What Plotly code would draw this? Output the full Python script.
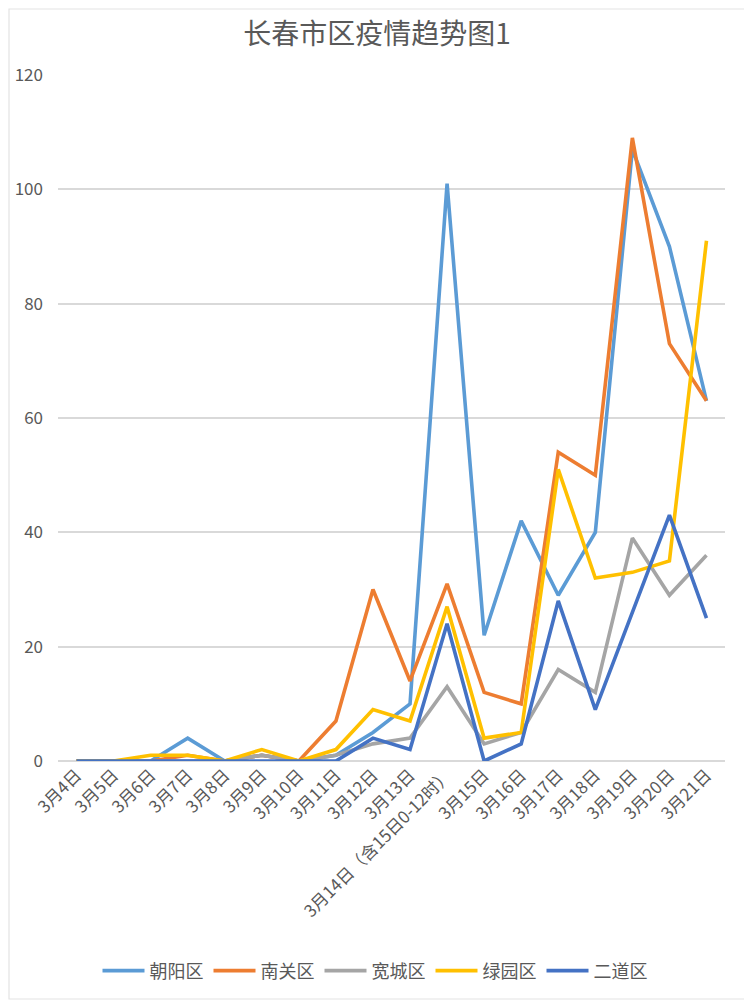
import plotly.graph_objects as go

categories = ["3月4日", "3月5日", "3月6日", "3月7日", "3月8日", "3月9日", "3月10日",
              "3月11日", "3月12日", "3月13日", "3月14日（含15日0-12时）", "3月15日",
              "3月16日", "3月17日", "3月18日", "3月19日", "3月20日", "3月21日"]

chaoyang = [0, 0, 0, 4, 0, 1, 0, 1, 5, 10, 101, 22, 42, 29, 40, 107, 90, 63]
nanguan = [0, 0, 0, 1, 0, 1, 0, 7, 30, 14, 31, 12, 10, 54, 50, 109, 73, 63]
kuancheng = [0, 0, 0, 0, 0, 1, 0, 1, 3, 4, 13, 3, 5, 16, 12, 39, 29, 36]
lvyuan = [0, 0, 1, 1, 0, 2, 0, 2, 9, 7, 27, 4, 5, 51, 32, 33, 35, 91]
erdao = [0, 0, 0, 0, 0, 0, 0, 0, 4, 2, 24, 0, 3, 28, 9, 26, 43, 25]

series = [
    ("朝阳区", chaoyang, "#5B9BD5"),
    ("南关区", nanguan, "#ED7D31"),
    ("宽城区", kuancheng, "#A5A5A5"),
    ("绿园区", lvyuan, "#FFC000"),
    ("二道区", erdao, "#4472C4"),
]

font_family = "Noto Sans CJK SC, Noto Sans, sans-serif"

fig = go.Figure()
for name, vals, color in series:
    fig.add_trace(go.Scatter(
        x=categories, y=vals, name=name, mode="lines",
        line=dict(color=color, width=3.6),
    ))

L, R, T, B = 50, 35, 67, 248
PW, PH = 752 - L - R, 1001 - T - B

fig.update_layout(
    width=752, height=1001,
    paper_bgcolor="white", plot_bgcolor="white",
    margin=dict(l=L, r=R, t=T, b=B, autoexpand=False),
    title=dict(text="长春市区疫情趋势图1", x=369 / 752, xanchor="center",
               y=0.974, yanchor="middle",
               font=dict(family=font_family, size=28, color="#595959")),
    font=dict(family=font_family, color="#595959", size=17),
    showlegend=True,
    legend=dict(orientation="h", x=(367 - L) / PW, xanchor="center", y=-0.306,
                yanchor="middle",
                font=dict(size=18, color="#595959"), itemwidth=42,
                traceorder="normal"),
    xaxis=dict(
        type="category", range=[-0.5, 17.5], tickangle=-45, automargin=False,
        showgrid=False, showline=False, ticks="",
        tickfont=dict(size=17, color="#595959"),
    ),
    yaxis=dict(
        range=[0, 120], dtick=20, showgrid=True, gridcolor="#D9D9D9", automargin=False,
        gridwidth=1.5, zeroline=True, zerolinecolor="#D9D9D9", zerolinewidth=1.5,
        showline=False, ticks="", ticklabelstandoff=14,
        tickfont=dict(size=17, color="#595959"),
    ),
)

fig.add_shape(type="rect", xref="paper", yref="paper",
              x0=-(L - 1) / PW, x1=(742 - L) / PW,
              y0=1 - (991 - T) / PH, y1=1 + (T - 1) / PH,
              line=dict(color="#E3E3E3", width=1.2), fillcolor="rgba(0,0,0,0)")

fig.write_html("out.html")
